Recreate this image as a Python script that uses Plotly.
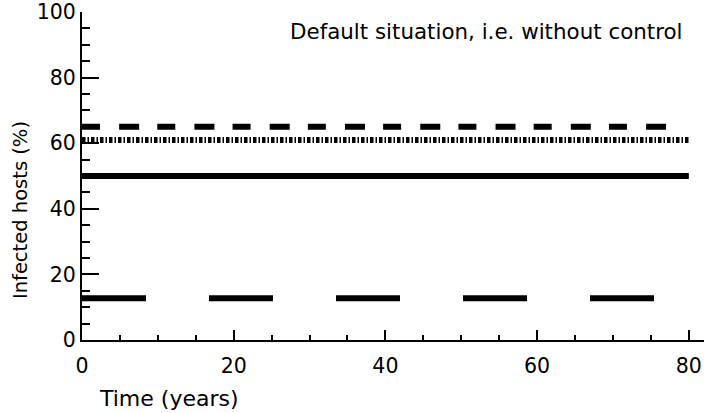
import plotly.graph_objects as go

# ---- data ----
time_full = [0, 80]
time_short = [0, 77]
infected_dash_top = [65, 65]
infected_dashdot = [61, 61]
infected_solid = [50, 50]
infected_longdash = [12.7, 12.7]

x_ticks = [0, 20, 40, 60, 80]
y_ticks = [0, 20, 40, 60, 80, 100]

FONT = "DejaVu Sans"

fig = go.Figure()

fig.add_trace(go.Scatter(x=time_short, y=infected_dash_top, mode="lines",
                         line=dict(color="black", width=6, dash="18px,19.14px,20px,18.14px"),
                         showlegend=False, hoverinfo="skip"))
fig.add_trace(go.Scatter(x=time_full, y=infected_dashdot, mode="lines",
                         line=dict(color="black", width=6, dash="3.5px,2px,1.5px,2px"),
                         showlegend=False, hoverinfo="skip"))
fig.add_trace(go.Scatter(x=time_full, y=infected_solid, mode="lines",
                         line=dict(color="black", width=6),
                         showlegend=False, hoverinfo="skip"))
fig.add_trace(go.Scatter(x=time_full, y=infected_longdash, mode="lines",
                         line=dict(color="black", width=6, dash="64px,63px"),
                         showlegend=False, hoverinfo="skip"))

fig.update_layout(
    width=711, height=413,
    margin=dict(l=82, r=7, t=12, b=73, autoexpand=False),
    paper_bgcolor="white", plot_bgcolor="white",
    font=dict(family=FONT, size=20, color="black"),
    showlegend=False,
)

fig.update_xaxes(
    range=[0, 82], tickmode="array", tickvals=x_ticks, automargin=False,
    ticks="inside", ticklen=10, tickwidth=2, tickcolor="black",
    showline=True, linecolor="black", linewidth=2,
    showgrid=False, zeroline=False,
    minor=dict(ticks="inside", ticklen=5, tickwidth=2, dtick=5, tickcolor="black", showgrid=False),
    tickfont=dict(family=FONT, size=20.5, color="black"),
    ticklabelstandoff=6,
)
fig.update_yaxes(
    range=[0, 100], tickmode="array", tickvals=y_ticks, automargin=False,
    ticks="inside", ticklen=17, tickwidth=2, tickcolor="black",
    showline=True, linecolor="black", linewidth=2,
    showgrid=False, zeroline=False,
    minor=dict(ticks="inside", ticklen=8, tickwidth=2, dtick=5, tickcolor="black", showgrid=False),
    tickfont=dict(family=FONT, size=20.5, color="black"),
    ticklabelstandoff=0,
)

fig.add_annotation(text="Default situation, i.e. without control",
                   xref="paper", yref="paper", x=0.969, y=0.985,
                   xanchor="right", yanchor="top", showarrow=False,
                   font=dict(family=FONT, size=21.4, color="black"))
fig.add_annotation(text="Infected hosts (%)",
                   xref="paper", yref="paper", x=-0.0997, y=0.396,
                   xanchor="center", yanchor="middle", textangle=-90, showarrow=False,
                   font=dict(family=FONT, size=19.5, color="black"))
fig.add_annotation(text="Time (years)",
                   xref="paper", yref="paper", x=0.14, y=-0.177,
                   xanchor="center", yanchor="middle", showarrow=False,
                   font=dict(family=FONT, size=22, color="black"))

fig.write_html("out.html")
